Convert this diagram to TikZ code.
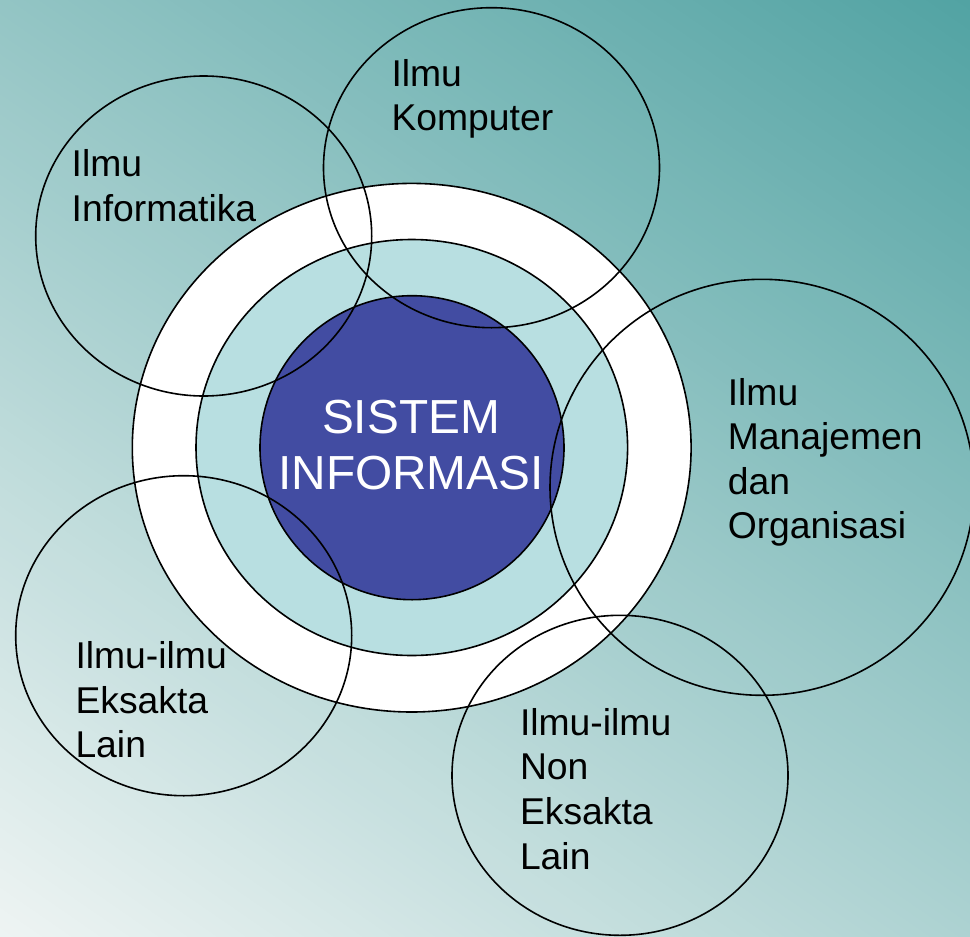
\documentclass[tikz,border=0pt]{standalone}
\usepackage{fontspec}
\setmainfont{Liberation Sans}
\usetikzlibrary{shapes.geometric}
\definecolor{bgteal}{HTML}{52A3A3}
\definecolor{bglight}{HTML}{EEF4F3}
\definecolor{ringblue}{HTML}{B8DFE1}
\definecolor{coreblue}{HTML}{424CA2}
\newcommand{\fieldlines}[1]{\parbox[t]{300pt}{\raggedright\fontsize{37.3}{44.6}\selectfont #1}}
\tikzset{
  field/.style={ellipse, draw=black, line width=1.6pt, inner sep=0pt,
    minimum width=336pt, minimum height=320pt},
  ring/.style={ellipse, draw=black, line width=1.6pt, inner sep=0pt},
  fieldtext/.style={anchor=base west, inner sep=0pt, text=black},
}
\begin{document}
\begin{tikzpicture}[x=1pt,y=-1pt]
\useasboundingbox (0,0) rectangle (970,937);
\begin{scope}
\clip (0,0) rectangle (970,937);
\fill[bglight] (0,0) rectangle (970,937);
\foreach \i in {0,...,159}{
  \pgfmathsetmacro{\ta}{\i/160}
  \pgfmathsetmacro{\tb}{(\i+1.6)/160}
  \pgfmathsetmacro{\pc}{(\i+0.5)/160*100}
  \fill[bgteal!\pc!bglight] ({2328*\ta+72.5},987) -- ({2328*\tb+72.5},987)
     -- ({2328*\tb-1430},-50) -- ({2328*\ta-1430},-50) -- cycle;
}
% central rings
\node[ring, fill=white, minimum width=558.8pt, minimum height=528.6pt] (outer) at (411.7,447.7) {};
\node[ring, fill=ringblue, minimum width=431.6pt, minimum height=416pt] (middle) at (411.8,447.5) {};
\node[ring, fill=coreblue, minimum width=304pt, minimum height=304pt] (core) at (412,447.7) {};
% surrounding fields
\node[field] (informatika) at (203.7,236) {};
\node[field] (komputer) at (491.5,167.7) {};
\node[field, minimum width=424pt, minimum height=416pt] (manajemen) at (762,487.3) {};
\node[field] (eksakta) at (183.7,635.7) {};
\node[field] (noneksakta) at (620,775.3) {};
\end{scope}
% texts
\node[anchor=base, inner sep=0pt, text=white] (si) at (411,433.3)
  {\parbox[t]{320pt}{\centering\fontsize{47.8}{55.7}\selectfont SISTEM\\INFORMASI}};
\node[fieldtext] (tinformatika) at (71.5,176.7) {\fieldlines{Ilmu\\Informatika}};
\node[fieldtext] (tkomputer) at (391.3,86) {\fieldlines{Ilmu\\Komputer}};
\node[fieldtext] (tmanajemen) at (727.6,405) {\fieldlines{Ilmu\\Manajemen\\dan\\Organisasi}};
\node[fieldtext] (teksakta) at (75.3,668.7) {\fieldlines{Ilmu-ilmu\\Eksakta\\Lain}};
\node[fieldtext] (tnoneksakta) at (519.8,735.3) {\fieldlines{Ilmu-ilmu\\Non\\Eksakta\\Lain}};
\end{tikzpicture}
\end{document}
